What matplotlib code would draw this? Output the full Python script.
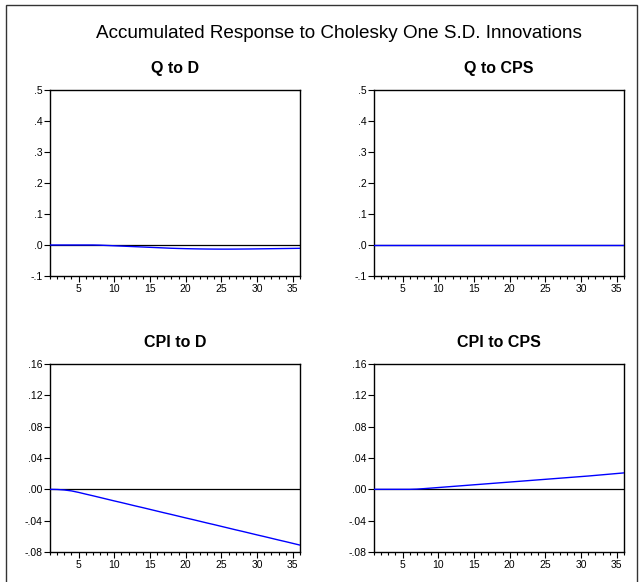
import matplotlib
matplotlib.use("Agg")
import matplotlib.pyplot as plt
from matplotlib.patches import Rectangle
from matplotlib.ticker import FuncFormatter, MultipleLocator

plt.rcParams['font.family'] = ['Liberation Sans', 'DejaVu Sans']

periods = list(range(1, 37))

# accumulated responses
q_to_d = [0, 0, 0, 0, 0, 0, 0, -0.0005, -0.0015, -0.0025,
          -0.0035, -0.0045, -0.0055, -0.0065, -0.0075, -0.0085, -0.0095, -0.0105, -0.0112, -0.0118,
          -0.0123, -0.0127, -0.013, -0.0132, -0.0133, -0.0133, -0.0132, -0.013, -0.0128, -0.0125,
          -0.0122, -0.0119, -0.0116, -0.0113, -0.011, -0.0107]
q_to_cps = [0.0] * 36
cpi_to_d = [0, -0.0002, -0.0008, -0.002, -0.0039, -0.0061, -0.0082, -0.0104, -0.0126, -0.0148,
            -0.0169, -0.0191, -0.0213, -0.0234, -0.0256, -0.0278, -0.0300, -0.0321, -0.0343, -0.0365,
            -0.0386, -0.0408, -0.0430, -0.0451, -0.0473, -0.0495, -0.0517, -0.0538, -0.0560, -0.0582,
            -0.0603, -0.0625, -0.0647, -0.0668, -0.0690, -0.0712]
cpi_to_cps = [0, 0, 0, 0, 0, 0, 0.0003, 0.0009, 0.0016, 0.0023,
              0.003, 0.0037, 0.0044, 0.0051, 0.0058, 0.0065, 0.0072, 0.0079, 0.0086, 0.0093,
              0.01, 0.0107, 0.0114, 0.0121, 0.0128, 0.0135, 0.0142, 0.0149, 0.0156, 0.0163,
              0.017, 0.0178, 0.0186, 0.0194, 0.0202, 0.021]

titles = ["Q to D", "Q to CPS", "CPI to D", "CPI to CPS"]
series = [q_to_d, q_to_cps, cpi_to_d, cpi_to_cps]

W, H = 642, 582
fig = plt.figure(figsize=(W / 100, H / 100), dpi=100)

fig.patches.append(Rectangle((6 / W, -0.01), 631 / W, 1 - 5 / H + 0.01,
                             transform=fig.transFigure, fill=False,
                             edgecolor='#333333', linewidth=1.0))

fig.text(339 / W, 1 - 33 / H, "Accumulated Response to Cholesky One S.D. Innovations",
         ha='center', va='center', fontsize=13.6)

boxes = [(50, 90, 276), (374, 90, 276), (50, 364, 552), (374, 364, 552)]

for i, (x0, top, bot) in enumerate(boxes):
    ax = fig.add_axes([x0 / W, 1 - bot / H, 250 / W, (bot - top) / H])
    ax.plot(periods, series[i], color='#0000ff', linewidth=1.0, zorder=3)
    ax.axhline(0, color='black', linewidth=0.9, zorder=2)
    ax.set_xlim(1, 36)
    if i < 2:
        ax.set_ylim(-0.1, 0.5)
        ax.yaxis.set_major_locator(MultipleLocator(0.1))
        ax.yaxis.set_major_formatter(FuncFormatter(
            lambda v, p: f"{v:.1f}".replace("0.", ".")))
    else:
        ax.set_ylim(-0.08, 0.16)
        ax.yaxis.set_major_locator(MultipleLocator(0.04))
        ax.yaxis.set_major_formatter(FuncFormatter(
            lambda v, p: f"{v:.2f}".replace("0.", ".")))
    ax.xaxis.set_major_locator(MultipleLocator(5))
    ax.xaxis.set_minor_locator(MultipleLocator(1))
    ax.tick_params(axis='both', which='major', direction='out', length=4,
                   width=0.8, labelsize=7.5, pad=1.5)
    ax.tick_params(axis='x', which='minor', direction='out', length=2.5, width=0.8)
    for s in ax.spines.values():
        s.set_linewidth(1.0)
    ax.set_title(titles[i], fontsize=11.5, fontweight='bold', pad=12)

fig.savefig("out.png", dpi=100)
